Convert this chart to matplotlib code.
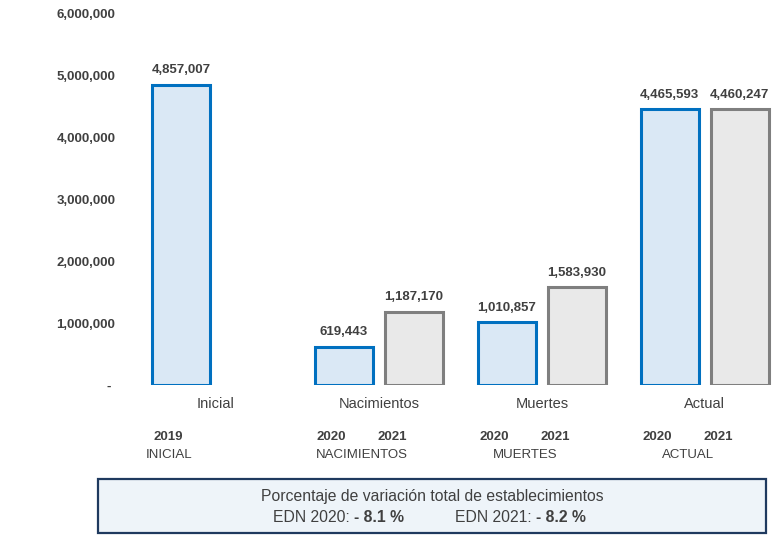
import numpy as np
import matplotlib.pyplot as plt
from matplotlib.patches import Rectangle
from matplotlib.text import Annotation
from matplotlib.ticker import FuncFormatter
import matplotlib.transforms as mtransforms

plt.rcParams['font.family'] = ['Liberation Sans', 'DejaVu Sans']

# Dades
categorias = ['Inicial', 'Nacimientos', 'Muertes', 'Actual']
cat_mayus = ['INICIAL', 'NACIMIENTOS', 'MUERTES', 'ACTUAL']
serie_a = [4857007, 619443, 1010857, 4465593]      # 2019 / 2020
serie_b = [np.nan, 1187170, 1583930, 4460247]      # 2021
anio_a = ['2019', '2020', '2020', '2020']
anio_b = ['', '2021', '2021', '2021']
edn = ['EDN 2020', 'EDN 2021']
variacion = [-8.1, -8.2]
titulo_caja = 'Porcentaje de variación total de establecimientos'

gris = '#404040'
W, H = 774, 536
fig = plt.figure(figsize=(W / 100, H / 100), dpi=100)
ax = fig.add_axes([125 / W, 1 - 385 / H, 649 / W, 371 / H])

x = np.arange(len(categorias))
off = 0.215
ancho = 0.355
xa = x - off
xb = x + off

ax.bar(xa, serie_a, ancho, color='#DAE8F5', edgecolor='#0070C0', linewidth=2.2)
ax.bar(xb, serie_b, ancho, color='#E9E9E9', edgecolor='#7F7F7F', linewidth=2.2)

for xi, v in zip(xa, serie_a):
    ax.annotate(f'{v:,}', (xi, v), xytext=(0, 6), textcoords='offset points',
                ha='center', va='bottom', fontsize=9.5, fontweight='bold', color=gris)
for xi, v in zip(xb, serie_b):
    if not np.isnan(v):
        ax.annotate(f'{int(v):,}', (xi, v), xytext=(0, 6), textcoords='offset points',
                    ha='center', va='bottom', fontsize=9.5, fontweight='bold', color=gris)

ax.set_ylim(0, 6000000)
ax.set_yticks(np.arange(0, 6000001, 1000000))
ax.yaxis.set_major_formatter(FuncFormatter(lambda v, p: '- ' if v == 0 else f'{int(v):,}'))
ax.set_xlim(-0.558, 3.424)
ax.set_xticks(x)
ax.set_xticklabels(categorias, fontsize=10.5, color=gris)
ax.tick_params(axis='x', length=0, pad=9)
ax.tick_params(axis='y', length=0, pad=7, labelsize=9.5, labelcolor=gris)
for t in ax.get_yticklabels():
    t.set_fontweight('bold')
for s in ax.spines.values():
    s.set_visible(False)

# Etiquetes d'any i de categoria sota l'eix
trans = mtransforms.blended_transform_factory(ax.transData, fig.transFigure)
for i in range(len(categorias)):
    pa = x[i] - 0.29
    pb = x[i] + 0.08
    fig.text(pa, 1 - 437 / H, anio_a[i], transform=trans, ha='center', va='center',
             fontsize=9.5, fontweight='bold', color=gris)
    if anio_b[i]:
        fig.text(pb, 1 - 437 / H, anio_b[i], transform=trans, ha='center', va='center',
                 fontsize=9.5, fontweight='bold', color=gris)
        pm = (pa + pb) / 2
    else:
        pm = pa
    fig.text(pm, 1 - 455 / H, cat_mayus[i], transform=trans, ha='center', va='center',
             fontsize=9.5, color=gris)

# Caixa inferior
fig.patches.append(Rectangle((98 / W, 1 - 533 / H), 668 / W, 54 / H, transform=fig.transFigure,
                             facecolor='#EEF4F9', edgecolor='#1F3A5F', linewidth=1.6))
fig.text(432 / W, 1 - 497 / H, titulo_caja, ha='center', va='center', fontsize=11.3,
         color=gris, zorder=3)
xs = [273, 455]
for xp, e, v in zip(xs, edn, variacion):
    t1 = fig.text(xp / W, 1 - 517 / H, f'{e}: ', ha='left', va='center', fontsize=11.3,
                  color=gris, zorder=3)
    a = Annotation(f'- {abs(v):.1f} %', xy=(1, 0.5), xycoords=t1, ha='left', va='center',
                   fontsize=11.3, fontweight='bold', color=gris, zorder=3)
    fig.add_artist(a)

fig.savefig('out.png', dpi=100)
